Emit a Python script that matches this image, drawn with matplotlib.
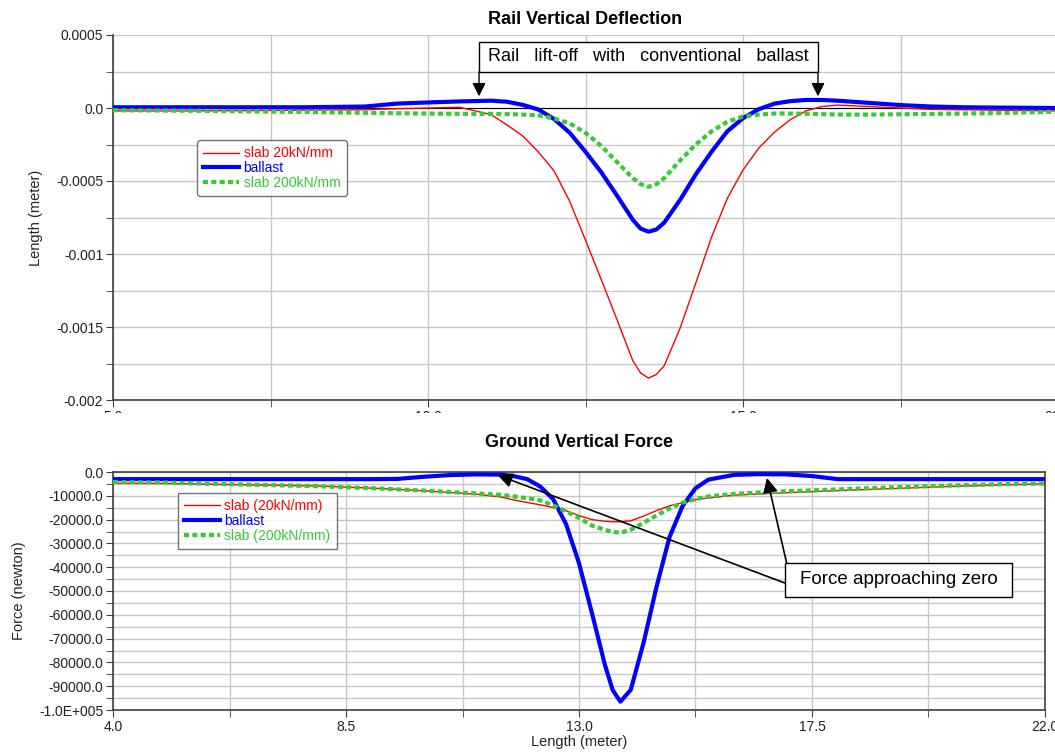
import matplotlib
matplotlib.use("Agg")
import matplotlib.pyplot as plt
from matplotlib.patches import Rectangle
from matplotlib.ticker import MultipleLocator, FixedLocator

plt.rcParams['font.family'] = ['Liberation Sans', 'DejaVu Sans']

# ---------------- data: Rail Vertical Deflection (meter) ----------------
x_top = [5.0, 6.0, 7.0, 8.0, 9.0, 9.5, 10.0, 10.5, 11.0, 11.25, 11.5, 11.75,
         12.0, 12.25, 12.5, 12.75, 13.0, 13.25, 13.375, 13.5, 13.625, 13.75,
         14.0, 14.25, 14.5, 14.75, 15.0, 15.25, 15.5, 15.75, 16.0, 16.25,
         16.5, 17.0, 17.5, 18.0, 18.5, 19.0, 20.0]
defl_slab20 = [-0.020, -0.020, -0.018, -0.015, -0.012, -0.005, 0.000, 0.005,
               -0.045, -0.115, -0.190, -0.300, -0.430, -0.640, -0.905, -1.175,
               -1.450, -1.730, -1.815, -1.850, -1.825, -1.765, -1.510, -1.200,
               -0.885, -0.620, -0.425, -0.275, -0.165, -0.080, -0.020, 0.010,
               0.020, 0.010, 0.000, -0.010, -0.012, -0.015, -0.020]
defl_ballast = [0.005, 0.005, 0.005, 0.005, 0.010, 0.030, 0.038, 0.045,
                0.050, 0.043, 0.022, -0.010, -0.075, -0.170, -0.300, -0.440,
                -0.600, -0.765, -0.826, -0.847, -0.832, -0.785, -0.630, -0.455,
                -0.300, -0.160, -0.070, -0.008, 0.030, 0.047, 0.055, 0.055,
                0.050, 0.035, 0.020, 0.010, 0.005, 0.003, 0.000]
defl_slab200 = [-0.015, -0.018, -0.022, -0.027, -0.033, -0.036, -0.038, -0.040,
                -0.040, -0.042, -0.045, -0.050, -0.072, -0.105, -0.170, -0.260,
                -0.370, -0.480, -0.522, -0.540, -0.522, -0.480, -0.360, -0.250,
                -0.160, -0.095, -0.058, -0.045, -0.038, -0.038, -0.040, -0.042,
                -0.045, -0.045, -0.043, -0.040, -0.038, -0.035, -0.025]
defl_scale = 1e-3

top_yticks = [0.0005, 0.0, -0.0005, -0.001, -0.0015, -0.002]
top_yticklabels = ['0.0005', '0.0', '-0.0005', '-0.001', '-0.0015', '-0.002']
top_xticks = [5.0, 10.0, 15.0, 20.0]
top_xticklabels = ['5.0', '10.0', '15.0', '20.0']
top_xminor = [7.5, 12.5, 17.5]

# ---------------- data: Ground Vertical Force (newton) ----------------
x_bot = [4.0, 5.0, 6.0, 7.0, 8.0, 9.0, 9.5, 10.0, 10.5, 11.0, 11.5, 11.75,
         12.0, 12.25, 12.5, 12.75, 13.0, 13.25, 13.5, 13.65, 13.8, 14.0,
         14.25, 14.5, 14.75, 15.0, 15.25, 15.5, 16.0, 16.5, 17.0, 17.5,
         18.0, 19.0, 20.0, 21.0, 22.0]
force_slab20 = [-4700, -4800, -5200, -5500, -5900, -6800, -7300, -7900, -8600,
                -9300, -10500, -11800, -12800, -13800, -14900, -16300, -18300,
                -20000, -20700, -20900, -20900, -20500, -18500, -16200, -14200,
                -12900, -11600, -10900, -9700, -9200, -8700, -8300, -7800,
                -7000, -6200, -5500, -5000]
force_ballast = [-3000, -3000, -3000, -3000, -3000, -3000, -2900, -2000, -1300,
                 -1000, -1100, -1800, -3000, -6100, -11400, -21900, -38300,
                 -59300, -81000, -91600, -96500, -91500, -71500, -48000,
                 -27200, -14300, -6800, -3200, -1200, -900, -1000, -1700,
                 -3000, -3000, -3000, -3000, -3000]
force_slab200 = [-4200, -4400, -5000, -5500, -6000, -6800, -7300, -7800, -8400,
                 -9000, -9600, -10300, -11000, -11900, -14000, -16500, -19300,
                 -22500, -24300, -25200, -25500, -24300, -21300, -18200,
                 -15300, -12900, -11400, -10300, -9200, -8600, -8100, -7700,
                 -7300, -6500, -5800, -5200, -4800]

bot_yticks = [0, -10000, -20000, -30000, -40000, -50000, -60000, -70000,
              -80000, -90000, -100000]
bot_yticklabels = ['0.0', '-10000.0', '-20000.0', '-30000.0', '-40000.0',
                   '-50000.0', '-60000.0', '-70000.0', '-80000.0', '-90000.0',
                   '-1.0E+005']
bot_xticks = [4.0, 8.5, 13.0, 17.5, 22.0]
bot_xticklabels = ['4.0', '8.5', '13.0', '17.5', '22.0']
bot_xminor = [6.25, 10.75, 15.25, 19.75]

labels_top = ['slab 20kN/mm', 'ballast', 'slab 200kN/mm']
labels_bot = ['slab (20kN/mm)', 'ballast', 'slab (200kN/mm)']

RED = '#ff0000'
BLUE = '#0000ff'
GREEN = '#33cc33'
GRID = '#c8c8c8'
SPINE = '#404040'
TXT = '#222222'

W, H = 1055, 755
fig = plt.figure(figsize=(W / 100, H / 100), dpi=100)


def fx(px):
    return px / W


def fy(py):
    return 1 - py / H


ax1 = fig.add_axes([fx(113), fy(400), (1058 - 113) / W, (400 - 35) / H])
ax2 = fig.add_axes([fx(113), fy(710), (1045 - 113) / W, (710 - 472) / H])

# ---------------- top panel ----------------
ax1.axhline(0, color='black', lw=0.8, zorder=2)
l1, = ax1.plot(x_top, [v * defl_scale for v in defl_slab20], color=RED, lw=1.0, zorder=3)
l2, = ax1.plot(x_top, [v * defl_scale for v in defl_ballast], color=BLUE, lw=3.0, zorder=4)
l3, = ax1.plot(x_top, [v * defl_scale for v in defl_slab200], color=GREEN, lw=3.0,
               linestyle=(0, (1.2, 0.8)), dash_capstyle='butt', zorder=5)
ax1.set_xlim(5, 20)
ax1.set_ylim(-0.002, 0.0005)
ax1.yaxis.set_major_locator(FixedLocator(top_yticks))
ax1.set_yticklabels(top_yticklabels)
ax1.yaxis.set_minor_locator(MultipleLocator(0.00025))
ax1.xaxis.set_major_locator(FixedLocator(top_xticks))
ax1.set_xticklabels(top_xticklabels)
ax1.xaxis.set_minor_locator(FixedLocator(top_xminor))
ax1.grid(True, which='both', color=GRID, lw=1.0, zorder=0)
ax1.set_axisbelow(True)
for s in ['top', 'right']:
    ax1.spines[s].set_visible(False)
for s in ['left', 'bottom']:
    ax1.spines[s].set_color(SPINE)
    ax1.spines[s].set_linewidth(1.2)
ax1.tick_params(which='both', direction='out', length=5, color=SPINE,
                labelsize=10, labelcolor=TXT, pad=2)
ax1.set_ylabel('Length (meter)', fontsize=10.5, color=TXT)
ax1.yaxis.set_label_coords((43 - 113) / 945, 0.5)
ax1.set_title('Rail Vertical Deflection', fontsize=13, fontweight='bold', pad=8)

leg1 = ax1.legend([l1, l2, l3], labels_top, loc='upper left',
                  bbox_to_anchor=(0.089, 0.712), borderaxespad=0, fontsize=10,
                  frameon=True, fancybox=True, edgecolor='#505050',
                  handlelength=2.6, handletextpad=0.3, labelspacing=0.05,
                  borderpad=0.45)
leg1.get_frame().set_linewidth(1.0)
for t, c in zip(leg1.get_texts(), [RED, BLUE, GREEN]):
    t.set_color(c)

# annotation box with arrows
bx0, bx1 = 10.81, 16.19
by0, by1 = 0.000247, 0.000452
ax1.add_patch(Rectangle((bx0, by0), bx1 - bx0, by1 - by0, facecolor='white',
                        edgecolor='black', lw=1.0, zorder=6))
ax1.text((bx0 + bx1) / 2, (by0 + by1) / 2,
         'Rail   lift-off   with   conventional   ballast', ha='center',
         va='center', fontsize=13, zorder=7)
for xa in (bx0, bx1):
    ax1.annotate('', xy=(xa, 0.00008), xytext=(xa, by0),
                 arrowprops=dict(arrowstyle='-|>', color='black', lw=1.0,
                                 mutation_scale=20, shrinkA=0, shrinkB=0),
                 zorder=7)

# ---------------- bottom panel ----------------
m1, = ax2.plot(x_bot, force_slab20, color=RED, lw=1.0, zorder=3)
m2, = ax2.plot(x_bot, force_ballast, color=BLUE, lw=3.0, zorder=4)
m3, = ax2.plot(x_bot, force_slab200, color=GREEN, lw=3.0,
               linestyle=(0, (1.2, 0.8)), dash_capstyle='butt', zorder=5)
ax2.set_xlim(4, 22)
ax2.set_ylim(-100000, 0)
ax2.yaxis.set_major_locator(FixedLocator(bot_yticks))
ax2.set_yticklabels(bot_yticklabels)
ax2.yaxis.set_minor_locator(MultipleLocator(5000))
ax2.xaxis.set_major_locator(FixedLocator(bot_xticks))
ax2.set_xticklabels(bot_xticklabels)
ax2.xaxis.set_minor_locator(FixedLocator(bot_xminor))
ax2.grid(True, which='both', color=GRID, lw=1.0, zorder=0)
ax2.set_axisbelow(True)
for s in ax2.spines.values():
    s.set_color(SPINE)
    s.set_linewidth(1.2)
ax2.tick_params(which='both', direction='out', length=5, color=SPINE,
                labelsize=10, labelcolor=TXT, pad=2)
ax2.set_ylabel('Force (newton)', fontsize=10.5, color=TXT)
ax2.yaxis.set_label_coords((26 - 113) / 932, 0.5)
ax2.set_xlabel('Length (meter)', fontsize=10.5, color=TXT, labelpad=1)
ax2.set_title('Ground Vertical Force', fontsize=13, fontweight='bold', pad=18)

leg2 = ax2.legend([m1, m2, m3], labels_bot, loc='upper left',
                  bbox_to_anchor=(0.0697, 0.912), borderaxespad=0, fontsize=10,
                  frameon=True, fancybox=False, edgecolor='#505050',
                  handlelength=2.6, handletextpad=0.3, labelspacing=0.05,
                  borderpad=0.45)
leg2.get_frame().set_linewidth(1.0)
for t, c in zip(leg2.get_texts(), [RED, BLUE, GREEN]):
    t.set_color(c)

fx0, fx1 = 16.97, 21.37
fy0, fy1 = -52500, -38200
ax2.add_patch(Rectangle((fx0, fy0), fx1 - fx0, fy1 - fy0, facecolor='white',
                        edgecolor='black', lw=1.0, zorder=6))
ax2.text((fx0 + fx1) / 2, (fy0 + fy1) / 2, 'Force approaching zero',
         ha='center', va='center', fontsize=13.5, zorder=7)
ax2.annotate('', xy=(11.43, -1300), xytext=(fx0, -46600),
             arrowprops=dict(arrowstyle='-|>', color='black', lw=1.2,
                             mutation_scale=22, shrinkA=0, shrinkB=0), zorder=7)
ax2.annotate('', xy=(16.63, -2500), xytext=(17.01, fy1),
             arrowprops=dict(arrowstyle='-|>', color='black', lw=1.2,
                             mutation_scale=22, shrinkA=0, shrinkB=0), zorder=7)

# white band that partly hides the top panel's x tick labels, as in the source
fig.patches.append(Rectangle((0, fy(428)), 1, (428 - 413) / H,
                             transform=fig.transFigure, facecolor='white',
                             edgecolor='none', zorder=5))

fig.savefig('out.png', dpi=100)
